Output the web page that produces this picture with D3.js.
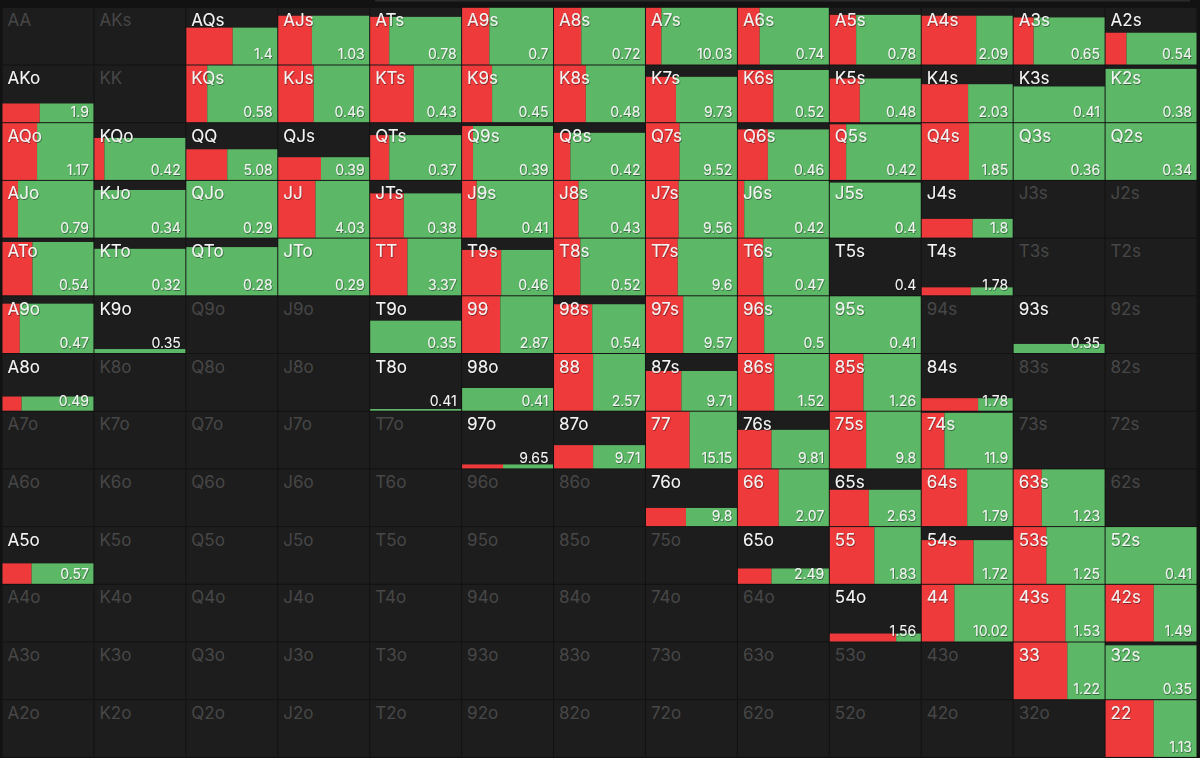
<!DOCTYPE html>
<html>
<head>
<meta charset="utf-8">
<script src="https://cdn.jsdelivr.net/npm/d3@7"></script>
<style>
  html, body { margin: 0; padding: 0; background: #121212; }
  svg { display: block; }
  text { font-family: Inter, "Open Sans", "DejaVu Sans", sans-serif; }
</style>
</head>
<body>
<svg id="chart" width="1200" height="758"></svg>
<script>
// Hand ranks (row/column order)
const ranks = ["A","K","Q","J","T","9","8","7","6","5","4","3","2"];

// Played frequency (height of bar, 0..1); null = hand not in range
const freq = [
  [null, null, 0.65, 0.86, 0.84, 1, 1, 1, 1, 0.875, 0.86, 0.83, 0.56],
  [0.33, null, 1, 1, 1, 1, 1, 0.80, 0.92, 0.77, 0.67, 0.63, 0.94],
  [1, 0.74, 0.54, 0.40, 0.79, 0.95, 0.83, 1, 0.89, 0.98, 1, 1, 1],
  [1, 0.84, 1, 1, 0.78, 1, 1, 1, 1, 0.97, 0.33, null, null],
  [0.94, 0.82, 0.85, 1, 1, 0.80, 1, 1, 1, 0, 0.14, null, null],
  [0.87, 0.07, null, null, 0.57, 1, 0.86, 1, 1, 1, null, 0.16, null],
  [0.25, null, null, null, 0.03, 0.40, 1, 0.70, 1, 1, 0.22, null, null],
  [null, null, null, null, null, 0.07, 0.41, 1, 0.68, 1, 0.98, null, null],
  [null, null, null, null, null, null, null, 0.32, 1, 0.64, 1, 1, null],
  [0.36, null, null, null, null, null, null, null, 0.27, 1, 0.77, 1, 1],
  [null, null, null, null, null, null, null, null, null, 0.14, 1, 1, 1],
  [null, null, null, null, null, null, null, null, null, null, null, 1, 0.95],
  [null, null, null, null, null, null, null, null, null, null, null, null, 1]
];

// Share of the played part that is a raise (red), rest is call (green)
const raiseShare = [
  [0, 0, 0.51, 0.37, 0.21, 0.30, 0.30, 0.17, 0.24, 0.29, 0.60, 0.22, 0.23],
  [0.41, 0, 0.23, 0.39, 0.48, 0.33, 0.35, 0.33, 0.39, 0.33, 0.51, 0, 0],
  [0.38, 0.11, 0.45, 0.47, 0.21, 0.12, 0.18, 0.37, 0.33, 0.18, 0.52, 0, 0],
  [0.17, 0, 0, 0.41, 0.37, 0.16, 0.27, 0.36, 0.07, 0, 0.56, 0, 0],
  [0.33, 0, 0, 0, 0.41, 0.43, 0.29, 0.35, 0.28, 0, 0.54, 0, 0],
  [0.19, 0, 0, 0, 0, 0.42, 0.42, 0.41, 0.29, 0, 0, 0, 0],
  [0.21, 0, 0, 0, 0, 0, 0.43, 0.39, 0.40, 0.37, 0.62, 0, 0],
  [0, 0, 0, 0, 0, 0.45, 0.43, 0.48, 0.37, 0.40, 0.25, 0, 0],
  [0, 0, 0, 0, 0, 0, 0, 0.44, 0.45, 0.43, 0.50, 0.31, 0],
  [0.32, 0, 0, 0, 0, 0, 0, 0, 0.37, 0.49, 0.57, 0.36, 0],
  [0, 0, 0, 0, 0, 0, 0, 0, 0, 0.73, 0.36, 0.57, 0.53],
  [0, 0, 0, 0, 0, 0, 0, 0, 0, 0, 0, 0.59, 0],
  [0, 0, 0, 0, 0, 0, 0, 0, 0, 0, 0, 0, 0.53]
];

// Value shown bottom-right of each cell
const ev = [
  [null, null, 1.4, 1.03, 0.78, 0.7, 0.72, 10.03, 0.74, 0.78, 2.09, 0.65, 0.54],
  [1.9, null, 0.58, 0.46, 0.43, 0.45, 0.48, 9.73, 0.52, 0.48, 2.03, 0.41, 0.38],
  [1.17, 0.42, 5.08, 0.39, 0.37, 0.39, 0.42, 9.52, 0.46, 0.42, 1.85, 0.36, 0.34],
  [0.79, 0.34, 0.29, 4.03, 0.38, 0.41, 0.43, 9.56, 0.42, 0.4, 1.8, null, null],
  [0.54, 0.32, 0.28, 0.29, 3.37, 0.46, 0.52, 9.6, 0.47, 0.4, 1.78, null, null],
  [0.47, 0.35, null, null, 0.35, 2.87, 0.54, 9.57, 0.5, 0.41, null, 0.35, null],
  [0.49, null, null, null, 0.41, 0.41, 2.57, 9.71, 1.52, 1.26, 1.78, null, null],
  [null, null, null, null, null, 9.65, 9.71, 15.15, 9.81, 9.8, 11.9, null, null],
  [null, null, null, null, null, null, null, 9.8, 2.07, 2.63, 1.79, 1.23, null],
  [0.57, null, null, null, null, null, null, null, 2.49, 1.83, 1.72, 1.25, 0.41],
  [null, null, null, null, null, null, null, null, null, 1.56, 10.02, 1.53, 1.49],
  [null, null, null, null, null, null, null, null, null, null, null, 1.22, 0.35],
  [null, null, null, null, null, null, null, null, null, null, null, null, 1.13]
];

const W = 1200, H = 758;
const svg = d3.select("#chart");

const defs = svg.append("defs");
const f = defs.append("filter").attr("id", "shadow").attr("x", "-20%").attr("y", "-30%").attr("width", "140%").attr("height", "160%");
f.append("feDropShadow").attr("dx", 0.6).attr("dy", 0.8).attr("stdDeviation", 0.7)
  .attr("flood-color", "#000").attr("flood-opacity", 0.55);

// top strip of the container
svg.append("rect").attr("x", 375).attr("y", 0).attr("width", 815).attr("height", 1.5).attr("fill", "#2a2a2a");

const x = d3.scaleBand().domain(d3.range(13)).range([2, 1197]).paddingInner(0);
const y = d3.scaleBand().domain(d3.range(13)).range([7.3, 757.4]).paddingInner(0);

function handLabel(r, c) {
  if (r === c) return ranks[r] + ranks[c];
  if (c > r) return ranks[r] + ranks[c] + "s";
  return ranks[c] + ranks[r] + "o";
}

const cells = [];
for (let r = 0; r < 13; r++) {
  for (let c = 0; c < 13; c++) {
    cells.push({ r, c, label: handLabel(r, c), freq: freq[r][c], raise: raiseShare[r][c], ev: ev[r][c] });
  }
}

const gap = 0.5;
const cw = x.bandwidth() - 2 * gap;
const ch = y.bandwidth() - 2 * gap;

const hScale = d3.scaleLinear().domain([0, 1]).range([0, ch]);
const wScale = d3.scaleLinear().domain([0, 1]).range([0, cw]);

const g = svg.selectAll("g.cell").data(cells).join("g")
  .attr("class", "cell")
  .attr("transform", d => `translate(${x(d.c) + gap},${y(d.r) + gap})`);

g.append("rect").attr("width", cw).attr("height", ch).attr("fill", "#1d1d1d");

const active = g.filter(d => d.freq !== null);

// red (raise) part
active.append("rect")
  .attr("x", 0)
  .attr("y", d => ch - hScale(d.freq))
  .attr("width", d => wScale(d.raise))
  .attr("height", d => hScale(d.freq))
  .attr("fill", "#ee3a3b");

// green (call) part
active.append("rect")
  .attr("x", d => wScale(d.raise))
  .attr("y", d => ch - hScale(d.freq))
  .attr("width", d => cw - wScale(d.raise))
  .attr("height", d => hScale(d.freq))
  .attr("fill", "#5cb866");

// hand labels
g.append("text")
  .attr("x", 5)
  .attr("y", 18.5)
  .attr("font-size", 17)
  .attr("fill", d => d.freq !== null ? "#f4f4f4" : "#474747")
  .attr("filter", d => d.freq !== null ? "url(#shadow)" : null)
  .text(d => d.label);

// values
active.append("text")
  .attr("x", cw - 4.5)
  .attr("y", ch - 5)
  .attr("text-anchor", "end")
  .attr("font-size", 14)
  .attr("fill", "#f4f4f4")
  .attr("filter", "url(#shadow)")
  .text(d => String(d.ev));
</script>
</body>
</html>
